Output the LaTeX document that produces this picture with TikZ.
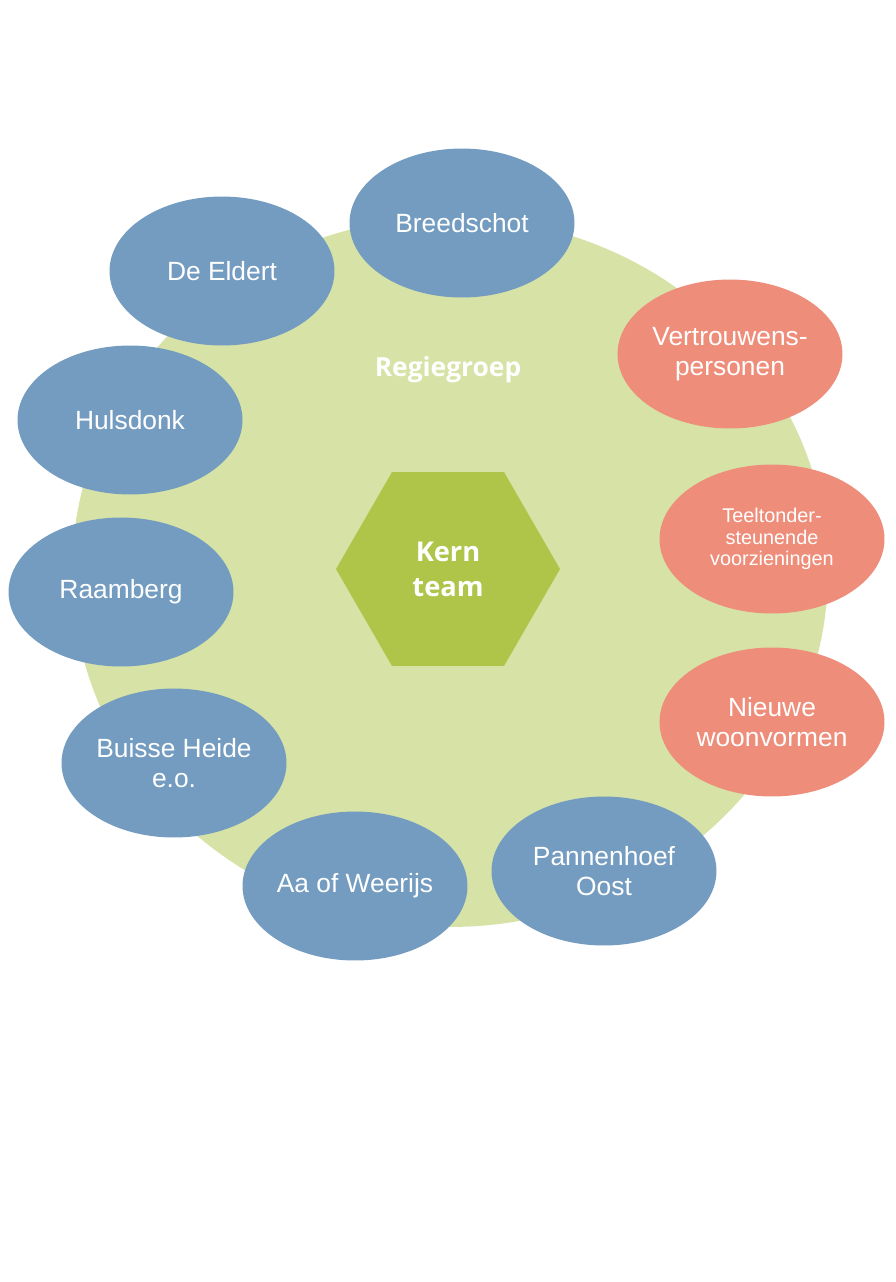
\documentclass[tikz,border=0pt]{standalone}
\usepackage{fontspec}
\setmainfont{Liberation Sans}
\newfontfamily\opensans{Open Sans}
\usetikzlibrary{shapes.geometric}
\usetikzlibrary{positioning}

\definecolor{wijkblauw}{RGB}{115,156,192}
\definecolor{zalm}{RGB}{238,141,122}
\definecolor{regiegroen}{RGB}{214,226,166}
\definecolor{kerngroen}{RGB}{174,197,74}

\begin{document}
\begin{tikzpicture}[
		x=0.02cm,
		y=-0.02cm,
		main node/.style={font=\fontsize{15}{17}\selectfont, text=white, align=center}
		,
		wijk node/.style={
			main node,
			ellipse,
			fill=wijkblauw,
			minimum width=4.5cm,
			minimum height=2.98cm,
			inner sep=0pt
		},
		thema node/.style={
			wijk node,
			fill=zalm
		},
		kern node/.style={
			main node,
			regular polygon,
			regular polygon sides=6,
			fill=kerngroen,
			minimum size=4.48cm,
			inner sep=0pt,
			font=\opensans\bfseries\fontsize{15.5}{20}\selectfont
		}
		]
		
		\fill[white] (0,0) rectangle (896,1282);
		\useasboundingbox (0,0) rectangle (896,1282);
		
		\node[ellipse, fill=regiegroen, minimum width=15.12cm, minimum height=14.2cm, inner sep=0pt] (regie) at (450,572) {};
		\node[kern node] (kern) at (448,569) {Kern\\team};
		\node[main node, font=\opensans\bfseries\fontsize{15}{17}\selectfont] (regielabel) at (448,370) {Regiegroep};
		
		\node[wijk node] (breedschot) at (462,223) {Breedschot};
		\node[wijk node] (eldert) at (222,271) {De Eldert};
		\node[wijk node] (hulsdonk) at (130,420) {Hulsdonk};
		\node[wijk node] (raamberg) at (121,592) {Raamberg};
		\node[wijk node] (buisse) at (174,763) {Buisse Heide\\e.o.};
		\node[wijk node] (weerijs) at (355,886) {Aa of Weerijs};
		\node[wijk node] (pannenhoef) at (604,871) {Pannenhoef\\Oost};
		\node[thema node] (woonvormen) at (772,722) {Nieuwe\\woonvormen};
		\node[thema node, font=\fontsize{11.3}{12.4}\selectfont] (teelt) at (772,539) {Teeltonder-\\steunende\\voorzieningen};
		\node[thema node] (vertrouwen) at (730,354) {Vertrouwens-\\personen};
	\end{tikzpicture}
\end{document}
